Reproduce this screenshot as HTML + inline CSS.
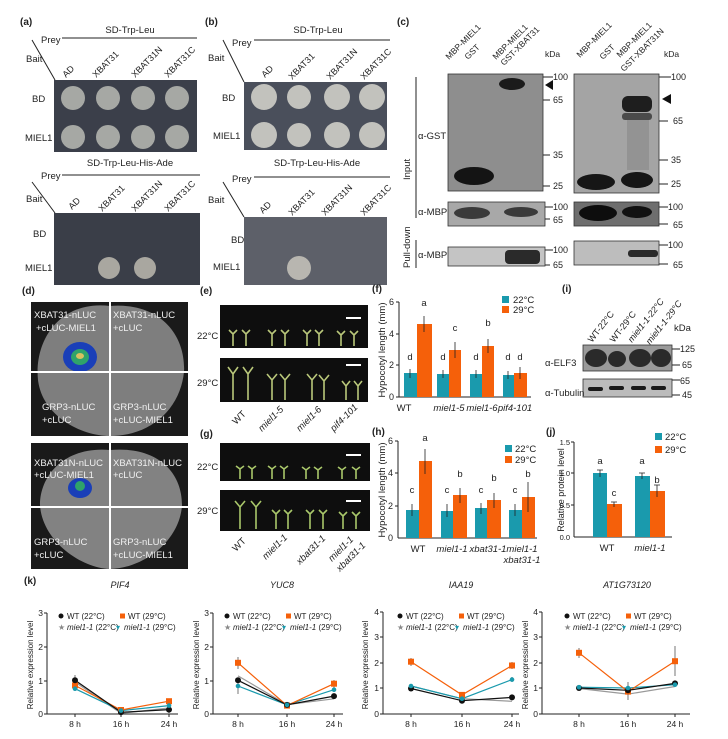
<!DOCTYPE html>
<html><head><meta charset="utf-8"><style>
html,body{margin:0;padding:0;background:#fff}
svg{display:block;font-family:"Liberation Sans",Arial,sans-serif}
</style></head><body>
<svg width="728" height="739" viewBox="0 0 728 739" xmlns="http://www.w3.org/2000/svg">
<rect width="728" height="739" fill="#fff"/>
<g font-size="9.5" fill="#222">
<!-- ===== Panel a ===== -->
<text x="20" y="25" font-weight="bold" font-size="10">(a)</text>
<text x="130" y="33" text-anchor="middle">SD-Trp-Leu</text>
<text x="41" y="43">Prey</text><line x1="62" y1="38" x2="197" y2="38" stroke="#222"/>
<text x="26" y="62">Bait</text><line x1="32" y1="40" x2="55" y2="80" stroke="#222"/>
<g font-size="9">
<text transform="translate(66,78) rotate(-45)">AD</text>
<text transform="translate(96,78) rotate(-45)">XBAT31</text>
<text transform="translate(135,78) rotate(-45)">XBAT31N</text>
<text transform="translate(168,78) rotate(-45)">XBAT31C</text>
</g>
<rect x="54" y="80" width="143" height="72" fill="#3b3f4a"/>
<g fill="#a6a8a4"><circle cx="73" cy="98" r="12"/><circle cx="108" cy="98" r="12"/><circle cx="143" cy="98" r="12"/><circle cx="177" cy="98" r="12"/>
<circle cx="73" cy="137" r="12"/><circle cx="108" cy="137" r="12"/><circle cx="143" cy="137" r="12"/><circle cx="177" cy="137" r="12"/></g>
<text x="32" y="102">BD</text><text x="25" y="141">MIEL1</text>
<text x="130" y="166" text-anchor="middle">SD-Trp-Leu-His-Ade</text>
<text x="41" y="179">Prey</text><line x1="62" y1="175" x2="200" y2="175" stroke="#222"/>
<text x="26" y="202">Bait</text><line x1="32" y1="182" x2="55" y2="213" stroke="#222"/>
<g font-size="9">
<text transform="translate(72,210) rotate(-45)">AD</text>
<text transform="translate(102,212) rotate(-45)">XBAT31</text>
<text transform="translate(135,212) rotate(-45)">XBAT31N</text>
<text transform="translate(168,212) rotate(-45)">XBAT31C</text>
</g>
<rect x="54" y="213" width="146" height="72" fill="#3a3e48"/>
<g fill="#a9a7a0"><circle cx="109" cy="268" r="11"/><circle cx="145" cy="268" r="11"/></g>
<text x="33" y="237">BD</text><text x="25" y="271">MIEL1</text>

<!-- ===== Panel b ===== -->
<text x="205" y="25" font-weight="bold" font-size="10">(b)</text>
<text x="318" y="33" text-anchor="middle">SD-Trp-Leu</text>
<text x="232" y="46">Prey</text><line x1="254" y1="40" x2="390" y2="40" stroke="#222"/>
<text x="208" y="61">Bait</text><line x1="223" y1="40" x2="244" y2="82" stroke="#222"/>
<g font-size="9">
<text transform="translate(265,78) rotate(-45)">AD</text>
<text transform="translate(292,80) rotate(-45)">XBAT31</text>
<text transform="translate(330,80) rotate(-45)">XBAT31N</text>
<text transform="translate(364,80) rotate(-45)">XBAT31C</text>
</g>
<rect x="244" y="82" width="143" height="68" fill="#4a4f5b"/>
<g fill="#c2c2bd"><circle cx="264" cy="97" r="13"/><circle cx="299" cy="97" r="12"/><circle cx="337" cy="97" r="13"/><circle cx="372" cy="97" r="13"/>
<circle cx="264" cy="135" r="13"/><circle cx="299" cy="135" r="12"/><circle cx="337" cy="135" r="13"/><circle cx="372" cy="135" r="13"/></g>
<text x="222" y="101">BD</text><text x="213" y="139">MIEL1</text>
<text x="317" y="166" text-anchor="middle">SD-Trp-Leu-His-Ade</text>
<text x="232" y="182">Prey</text><line x1="254" y1="177" x2="390" y2="177" stroke="#222"/>
<text x="208" y="203">Bait</text><line x1="223" y1="182" x2="244" y2="217" stroke="#222"/>
<g font-size="9">
<text transform="translate(263,214) rotate(-45)">AD</text>
<text transform="translate(292,216) rotate(-45)">XBAT31</text>
<text transform="translate(325,216) rotate(-45)">XBAT31N</text>
<text transform="translate(364,216) rotate(-45)">XBAT31C</text>
</g>
<rect x="244" y="217" width="143" height="68" fill="#5d6069"/>
<circle cx="299" cy="268" r="12" fill="#b8b6b0"/>
<text x="231" y="243">BD</text><text x="213" y="270">MIEL1</text>

<!-- ===== Panel c ===== -->
<text x="397" y="25" font-weight="bold" font-size="10">(c)</text>
<g font-size="8.5">
<text transform="translate(449,60) rotate(-45)">MBP-MIEL1</text>
<text transform="translate(468,60) rotate(-45)">GST</text>
<text transform="translate(496,60) rotate(-45)">MBP-MIEL1</text>
<text transform="translate(504,66) rotate(-45)">GST-XBAT31</text>
<text transform="translate(580,58) rotate(-45)">MBP-MIEL1</text>
<text transform="translate(603,60) rotate(-45)">GST</text>
<text transform="translate(620,58) rotate(-45)">MBP-MIEL1</text>
<text transform="translate(624,72) rotate(-45)">GST-XBAT31N</text>
<text x="545" y="57">kDa</text><text x="664" y="57">kDa</text>
</g>
<text transform="translate(410,180) rotate(-90)">Input</text>
<line x1="416" y1="77" x2="416" y2="218" stroke="#222"/>
<text transform="translate(410,268) rotate(-90)">Pull-down</text>
<line x1="416" y1="240" x2="416" y2="268" stroke="#222"/>
<text x="418" y="139">α-GST</text>
<text x="418" y="215">α-MBP</text>
<text x="418" y="258">α-MBP</text>
<rect x="448" y="74" width="95" height="117" fill="#8e8e8e" stroke="#333" stroke-width="0.8"/>
<ellipse cx="512" cy="84" rx="13" ry="6" fill="#1b1b1b"/>
<ellipse cx="474" cy="176" rx="20" ry="9" fill="#141414"/>
<rect x="574" y="74" width="85" height="119" fill="#a4a4a4" stroke="#333" stroke-width="0.8"/>
<rect x="622" y="96" width="30" height="16" rx="6" fill="#1e1e1e"/>
<rect x="622" y="113" width="30" height="7" rx="3" fill="#4a4a4a"/>
<rect x="627" y="120" width="22" height="50" fill="#8c8c8c" opacity="0.7"/>
<ellipse cx="596" cy="182" rx="19" ry="8" fill="#161616"/>
<ellipse cx="637" cy="180" rx="16" ry="8" fill="#161616"/>
<g stroke="#222" stroke-width="1"><line x1="543" y1="77" x2="553" y2="77"/><line x1="543" y1="100" x2="550" y2="100"/><line x1="543" y1="155" x2="550" y2="155"/><line x1="543" y1="186" x2="550" y2="186"/>
<line x1="659" y1="77" x2="671" y2="77"/><line x1="659" y1="121" x2="668" y2="121"/><line x1="659" y1="160" x2="668" y2="160"/><line x1="659" y1="184" x2="668" y2="184"/></g>
<g font-size="9"><text x="553" y="80">100</text><text x="553" y="103">65</text><text x="553" y="158">35</text><text x="553" y="189">25</text>
<text x="671" y="80">100</text><text x="673" y="124">65</text><text x="671" y="163">35</text><text x="671" y="187">25</text></g>
<polygon points="545,85 553,80 553,90" fill="#111"/>
<polygon points="662,99 671,94 671,104" fill="#111"/>
<rect x="448" y="202" width="97" height="24" fill="#a8a8a8" stroke="#333" stroke-width="0.8"/>
<ellipse cx="472" cy="213" rx="18" ry="6" fill="#3a3a3a"/><ellipse cx="521" cy="212" rx="17" ry="5" fill="#3a3a3a"/>
<rect x="574" y="202" width="85" height="24" fill="#6e6e6e" stroke="#333" stroke-width="0.8"/>
<ellipse cx="598" cy="213" rx="19" ry="8" fill="#0d0d0d"/><ellipse cx="637" cy="212" rx="15" ry="6" fill="#111"/>
<rect x="448" y="247" width="97" height="19" fill="#c4c4c4" stroke="#333" stroke-width="0.8"/>
<rect x="505" y="250" width="35" height="14" rx="4" fill="#2a2a2a"/>
<rect x="574" y="241" width="85" height="24" fill="#bdbdbd" stroke="#333" stroke-width="0.8"/>
<rect x="628" y="250" width="30" height="7" rx="3" fill="#2a2a2a"/>
<g stroke="#222"><line x1="545" y1="207" x2="553" y2="207"/><line x1="545" y1="219" x2="550" y2="219"/><line x1="659" y1="207" x2="668" y2="207"/><line x1="659" y1="224" x2="668" y2="224"/>
<line x1="545" y1="250" x2="553" y2="250"/><line x1="545" y1="265" x2="550" y2="265"/><line x1="659" y1="245" x2="668" y2="245"/><line x1="659" y1="264" x2="668" y2="264"/></g>
<g font-size="9"><text x="553" y="210">100</text><text x="553" y="223">65</text><text x="668" y="210">100</text><text x="673" y="228">65</text>
<text x="553" y="253">100</text><text x="553" y="268">65</text><text x="668" y="248">100</text><text x="673" y="268">65</text></g>

<!-- ===== Panel d ===== -->
<text x="22" y="294" font-weight="bold" font-size="10">(d)</text>
<rect x="31" y="302" width="157" height="134" fill="#1a1a1a"/>
<path d="M110,306 C60,300 34,340 38,380 C42,415 80,436 110,436 C150,436 180,410 184,372 C186,335 160,302 110,306Z" fill="#7e7e7e"/>
<ellipse cx="80" cy="357" rx="17" ry="15" fill="#1a3fb8"/><ellipse cx="80" cy="357" rx="9" ry="8" fill="#2fa36a"/><ellipse cx="80" cy="356" rx="4" ry="3" fill="#d8c060"/>
<rect x="31" y="443" width="157" height="126" fill="#1a1a1a"/>
<path d="M110,450 C65,446 40,475 40,505 C42,540 80,568 110,569 C145,568 180,540 182,505 C182,470 155,446 110,450Z" fill="#828282"/>
<ellipse cx="80" cy="488" rx="12" ry="10" fill="#1a3fb8"/><ellipse cx="80" cy="486" rx="5" ry="5" fill="#2fa36a"/>
<g stroke="#fff" stroke-width="2"><line x1="110" y1="302" x2="110" y2="436"/><line x1="31" y1="372" x2="188" y2="372"/>
<line x1="110" y1="443" x2="110" y2="569"/><line x1="31" y1="507" x2="188" y2="507"/></g>
<g fill="#f0f0f0" font-size="9.5">
<text x="34" y="318">XBAT31-nLUC</text><text x="36" y="331">+cLUC-MIEL1</text>
<text x="113" y="318">XBAT31-nLUC</text><text x="113" y="331">+cLUC</text>
<text x="42" y="410">GRP3-nLUC</text><text x="42" y="423">+cLUC</text>
<text x="113" y="410">GRP3-nLUC</text><text x="113" y="423">+cLUC-MIEL1</text>
<text x="34" y="466">XBAT31N-nLUC</text><text x="34" y="478">+cLUC-MIEL1</text>
<text x="113" y="466">XBAT31N-nLUC</text><text x="113" y="478">+cLUC</text>
<text x="34" y="545">GRP3-nLUC</text><text x="34" y="558">+cLUC</text>
<text x="113" y="545">GRP3-nLUC</text><text x="113" y="558">+cLUC-MIEL1</text>
</g>

<!-- ===== Panel e ===== -->
<text x="200" y="294" font-weight="bold" font-size="10">(e)</text>
<rect x="220" y="305" width="148" height="43" fill="#0e0e0e"/>
<rect x="220" y="358" width="148" height="44" fill="#0e0e0e"/>
<text x="197" y="339">22°C</text><text x="197" y="386">29°C</text>
<g stroke="#fff" stroke-width="2"><line x1="346" y1="318" x2="361" y2="318"/><line x1="346" y1="365" x2="361" y2="365"/></g>
<g stroke="#b9c77a" stroke-width="1.6" fill="none">
<path d="M233,346V334l-4,-4M233,334l4,-4 M246,346V334l-4,-4M246,334l4,-4"/>
<path d="M272,346V334l-4,-4M272,334l4,-4 M285,346V334l-4,-4M285,334l4,-4"/>
<path d="M307,346V334l-4,-4M307,334l4,-4 M319,346V334l-4,-4M319,334l4,-4"/>
<path d="M341,346V335l-4,-4M341,335l4,-4 M354,346V335l-4,-4M354,335l4,-4"/>
<path d="M233,400V374l-5,-7M233,374l5,-7 M248,400V374l-5,-7M248,374l5,-7"/>
<path d="M272,400V380l-5,-6M272,380l5,-6 M285,400V380l-5,-6M285,380l5,-6"/>
<path d="M312,400V380l-5,-6M312,380l5,-6 M324,400V381l-5,-6M324,381l5,-6"/>
<path d="M346,400V386l-4,-5M346,386l4,-5 M358,400V386l-4,-5M358,386l4,-5"/>
</g>
<g font-size="9.5" font-style="italic">
<text transform="translate(236,425) rotate(-45)" font-style="normal">WT</text>
<text transform="translate(262,432) rotate(-45)">miel1-5</text>
<text transform="translate(300,432) rotate(-45)">miel1-6</text>
<text transform="translate(334,432) rotate(-45)">pif4-101</text>
</g>

<!-- ===== Panel g ===== -->
<text x="200" y="437" font-weight="bold" font-size="10">(g)</text>
<rect x="220" y="443" width="150" height="38" fill="#0e0e0e"/>
<rect x="220" y="490" width="150" height="41" fill="#0e0e0e"/>
<text x="197" y="470">22°C</text><text x="197" y="514">29°C</text>
<g stroke="#fff" stroke-width="2"><line x1="346" y1="455" x2="361" y2="455"/><line x1="346" y1="501" x2="361" y2="501"/></g>
<g stroke="#a9c76a" stroke-width="1.6" fill="none">
<path d="M240,479V469l-4,-3M240,469l4,-3 M252,479V469l-4,-3M252,469l4,-3"/>
<path d="M272,479V469l-4,-3M272,469l4,-3 M284,479V469l-4,-3M284,469l4,-3"/>
<path d="M306,479V470l-4,-3M306,470l4,-3 M318,479V470l-4,-3M318,470l4,-3"/>
<path d="M342,479V470l-4,-3M342,470l4,-3 M356,479V470l-4,-3M356,470l4,-3"/>
<path d="M240,529V507l-5,-6M240,507l5,-6 M256,529V507l-5,-6M256,507l5,-6"/>
<path d="M276,529V514l-4,-4M276,514l4,-4 M288,529V514l-4,-4M288,514l4,-4"/>
<path d="M310,529V514l-4,-4M310,514l4,-4 M323,529V514l-4,-4M323,514l4,-4"/>
<path d="M343,529V516l-4,-4M343,516l4,-4 M356,529V516l-4,-4M356,516l4,-4"/>
</g>
<g font-size="9.5" font-style="italic">
<text transform="translate(236,552) rotate(-45)" font-style="normal">WT</text>
<text transform="translate(266,560) rotate(-45)">miel1-1</text>
<text transform="translate(300,565) rotate(-45)">xbat31-1</text>
<text transform="translate(332,562) rotate(-45)">miel1-1</text>
<text transform="translate(340,572) rotate(-45)">xbat31-1</text>
</g>

<!-- ===== Panel f ===== -->
<text x="372" y="292" font-weight="bold" font-size="10">(f)</text>
<text transform="translate(385,350) rotate(-90)" text-anchor="middle">Hypocotyl length (mm)</text>
<g stroke="#222"><line x1="399" y1="302" x2="399" y2="397"/><line x1="399" y1="397" x2="531" y2="397"/>
<line x1="396" y1="302" x2="399" y2="302"/><line x1="396" y1="334" x2="399" y2="334"/><line x1="396" y1="365" x2="399" y2="365"/><line x1="396" y1="397" x2="399" y2="397"/></g>
<g font-size="9" text-anchor="end"><text x="394" y="305">6</text><text x="394" y="337">4</text><text x="394" y="368">2</text><text x="394" y="400">0</text></g>
<g fill="#1a9aad"><rect x="404" y="373" width="13" height="24"/><rect x="437" y="374" width="12" height="23"/><rect x="470" y="374" width="12" height="23"/><rect x="503" y="375" width="11" height="22"/></g>
<g fill="#f5600a"><rect x="417" y="324" width="15" height="73"/><rect x="449" y="350" width="12" height="47"/><rect x="482" y="346" width="12" height="51"/><rect x="514" y="373" width="13" height="24"/></g>
<g stroke="#222" stroke-width="0.8"><path d="M410,369V378M424,316V332M443,370V378M455,342V358M476,370V378M488,339V353M508,371V379M520,367V379"/></g>
<g font-size="9.5" text-anchor="middle"><text x="410" y="360">d</text><text x="424" y="306">a</text><text x="443" y="360">d</text><text x="455" y="331">c</text><text x="476" y="360">d</text><text x="488" y="326">b</text><text x="508" y="360">d</text><text x="520" y="360">d</text></g>
<g font-size="9.5" text-anchor="middle"><text x="404" y="411">WT</text><g font-style="italic"><text x="449" y="411">miel1-5</text><text x="482" y="411">miel1-6</text><text x="515" y="411">pif4-101</text></g></g>
<rect x="502" y="296" width="7" height="7" fill="#1a9aad"/><text x="513" y="303">22°C</text>
<rect x="502" y="306" width="7" height="7" fill="#f5600a"/><text x="513" y="313">29°C</text>

<!-- ===== Panel h ===== -->
<text x="372" y="435" font-weight="bold" font-size="10">(h)</text>
<text transform="translate(385,490) rotate(-90)" text-anchor="middle">Hypocotyl length (mm)</text>
<g stroke="#222"><line x1="398" y1="441" x2="398" y2="538"/><line x1="398" y1="538" x2="537" y2="538"/>
<line x1="395" y1="441" x2="398" y2="441"/><line x1="395" y1="473" x2="398" y2="473"/><line x1="395" y1="506" x2="398" y2="506"/></g>
<g font-size="9" text-anchor="end"><text x="393" y="444">6</text><text x="393" y="476">4</text><text x="393" y="509">2</text><text x="393" y="541">0</text></g>
<g fill="#1a9aad"><rect x="406" y="510" width="13" height="28"/><rect x="441" y="511" width="12" height="27"/><rect x="475" y="508" width="12" height="30"/><rect x="509" y="510" width="13" height="28"/></g>
<g fill="#f5600a"><rect x="419" y="461" width="13" height="77"/><rect x="453" y="495" width="14" height="43"/><rect x="487" y="500" width="14" height="38"/><rect x="522" y="497" width="13" height="41"/></g>
<g stroke="#222" stroke-width="0.8"><path d="M412,504V516M425,449V474M447,504V517M460,488V503M481,503V514M494,493V508M515,504V516M528,482V512"/></g>
<g font-size="9.5" text-anchor="middle"><text x="412" y="493">c</text><text x="425" y="441">a</text><text x="447" y="493">c</text><text x="460" y="477">b</text><text x="481" y="493">c</text><text x="494" y="481">b</text><text x="515" y="493">c</text><text x="528" y="477">b</text></g>
<g font-size="9.5" text-anchor="middle"><text x="418" y="552">WT</text><g font-style="italic"><text x="452" y="552">miel1-1</text><text x="488" y="552">xbat31-1</text><text x="522" y="552">miel1-1</text><text x="522" y="563">xbat31-1</text></g></g>
<rect x="505" y="445" width="7" height="7" fill="#1a9aad"/><text x="515" y="452">22°C</text>
<rect x="505" y="456" width="7" height="7" fill="#f5600a"/><text x="515" y="463">29°C</text>

<!-- ===== Panel i ===== -->
<text x="562" y="292" font-weight="bold" font-size="10">(i)</text>
<g font-size="9">
<text transform="translate(592,343) rotate(-52)">WT-22°C</text>
<text transform="translate(614,343) rotate(-52)">WT-29°C</text>
<text transform="translate(632,343) rotate(-52)" font-style="italic">miel1-1-22°C</text>
<text transform="translate(650,345) rotate(-52)" font-style="italic">miel1-1-29°C</text>
</g>
<text x="674" y="331">kDa</text>
<rect x="583" y="345" width="89" height="26" fill="#9a9a9a" stroke="#333" stroke-width="0.8"/>
<g fill="#2a2a2a"><ellipse cx="596" cy="358" rx="11" ry="9"/><ellipse cx="617" cy="359" rx="9" ry="8"/><ellipse cx="640" cy="358" rx="11" ry="9"/><ellipse cx="661" cy="358" rx="10" ry="9"/></g>
<rect x="583" y="379" width="89" height="18" fill="#bbbbbb" stroke="#333" stroke-width="0.8"/>
<g fill="#1a1a1a"><rect x="588" y="387" width="15" height="4" rx="2"/><rect x="609" y="386" width="15" height="4" rx="2"/><rect x="631" y="386" width="15" height="4" rx="2"/><rect x="651" y="386" width="15" height="4" rx="2"/></g>
<text x="545" y="366">α-ELF3</text><text x="545" y="396">α-Tubulin</text>
<g stroke="#222"><line x1="672" y1="349" x2="680" y2="349"/><line x1="672" y1="365" x2="680" y2="365"/><line x1="672" y1="380" x2="680" y2="380"/><line x1="672" y1="395" x2="680" y2="395"/></g>
<g font-size="9"><text x="680" y="352">125</text><text x="682" y="368">65</text><text x="680" y="384">65</text><text x="682" y="398">45</text></g>

<!-- ===== Panel j ===== -->
<text x="546" y="435" font-weight="bold" font-size="10">(j)</text>
<text transform="translate(564,490) rotate(-90)" text-anchor="middle" font-size="9">Relative protein level</text>
<g stroke="#222"><line x1="574" y1="442" x2="574" y2="537"/><line x1="574" y1="537" x2="672" y2="537"/>
<line x1="571" y1="442" x2="574" y2="442"/><line x1="571" y1="473" x2="574" y2="473"/><line x1="571" y1="505" x2="574" y2="505"/></g>
<g font-size="7.5" text-anchor="end"><text x="570" y="445">1.5</text><text x="570" y="476">1.0</text><text x="570" y="508">0.5</text><text x="570" y="540">0.0</text></g>
<rect x="593" y="473" width="14" height="64" fill="#1a9aad"/><rect x="607" y="504" width="15" height="33" fill="#f5600a"/>
<rect x="635" y="476" width="15" height="61" fill="#1a9aad"/><rect x="650" y="491" width="15" height="46" fill="#f5600a"/>
<g stroke="#222" stroke-width="0.8"><path d="M600,470V477M597,470H603M614,502V507M611,502H617M642,473V479M639,473H645M657,485V497M654,485H660"/></g>
<g font-size="9.5" text-anchor="middle"><text x="600" y="464">a</text><text x="614" y="496">c</text><text x="642" y="464">a</text><text x="657" y="483">b</text></g>
<text x="607" y="551" text-anchor="middle">WT</text><text x="650" y="551" text-anchor="middle" font-style="italic">miel1-1</text>
<rect x="655" y="433" width="7" height="7" fill="#1a9aad"/><text x="665" y="440">22°C</text>
<rect x="655" y="446" width="7" height="7" fill="#f5600a"/><text x="665" y="453">29°C</text>

<!-- ===== Panel k ===== -->
<text x="24" y="584" font-weight="bold" font-size="10">(k)</text>
<g font-size="9" font-style="italic" text-anchor="middle"><text x="120" y="588">PIF4</text><text x="282" y="588">YUC8</text><text x="461" y="588">IAA19</text><text x="627" y="588">AT1G73120</text></g>
<g font-size="8" text-anchor="middle">
<text transform="translate(33,665) rotate(-90)">Relative expression level</text>
<text transform="translate(199,665) rotate(-90)">Relative expression level</text>
<text transform="translate(368,665) rotate(-90)">Relative expression level</text>
<text transform="translate(528,665) rotate(-90)">Relative expression level</text>
</g>
<g stroke="#222" fill="none">
<path d="M47,613V714H178M44,613H47M44,647H47M44,681H47M44,714H47M75,714V717M121,714V717M169,714V717"/>
<path d="M213,613V714H343M210,613H213M210,647H213M210,681H213M210,714H213M238,714V717M287,714V717M334,714V717"/>
<path d="M383,612V714H519M380,612H383M380,637H383M380,663H383M380,688H383M380,714H383M411,714V717M462,714V717M512,714V717"/>
<path d="M542,612V714H690M539,612H542M539,637H542M539,663H542M539,688H542M539,714H542M579,714V717M628,714V717M675,714V717"/>
</g>
<g font-size="8.5" text-anchor="end">
<text x="43" y="616">3</text><text x="43" y="650">2</text><text x="43" y="684">1</text><text x="43" y="717">0</text>
<text x="209" y="616">3</text><text x="209" y="650">2</text><text x="209" y="684">1</text><text x="209" y="717">0</text>
<text x="379" y="615">4</text><text x="379" y="640">3</text><text x="379" y="666">2</text><text x="379" y="691">1</text><text x="379" y="717">0</text>
<text x="538" y="615">4</text><text x="538" y="640">3</text><text x="538" y="666">2</text><text x="538" y="691">1</text><text x="538" y="717">0</text>
</g>
<g font-size="8.5" text-anchor="middle">
<text x="75" y="727">8 h</text><text x="121" y="727">16 h</text><text x="169" y="727">24 h</text>
<text x="238" y="727">8 h</text><text x="287" y="727">16 h</text><text x="334" y="727">24 h</text>
<text x="411" y="727">8 h</text><text x="462" y="727">16 h</text><text x="512" y="727">24 h</text>
<text x="579" y="727">8 h</text><text x="628" y="727">16 h</text><text x="675" y="727">24 h</text>
</g>
<g font-size="8">
<g>
<circle cx="61" cy="616" r="2.5" fill="#111"/><text x="67" y="619">WT (22°C)</text>
<rect x="120" y="613.5" width="5" height="5" fill="#f5600a"/><text x="128" y="619">WT (29°C)</text>
<text x="58" y="630" fill="#888">★</text><text x="67" y="630"><tspan font-style="italic">miel1-1</tspan> (22°C)</text>
<text x="116" y="630" fill="#1a9aad">▾</text><text x="124" y="630"><tspan font-style="italic">miel1-1</tspan> (29°C)</text>
</g>
<g transform="translate(166,0)">
<circle cx="61" cy="616" r="2.5" fill="#111"/><text x="67" y="619">WT (22°C)</text>
<rect x="120" y="613.5" width="5" height="5" fill="#f5600a"/><text x="128" y="619">WT (29°C)</text>
<text x="58" y="630" fill="#888">★</text><text x="67" y="630"><tspan font-style="italic">miel1-1</tspan> (22°C)</text>
<text x="116" y="630" fill="#1a9aad">▾</text><text x="124" y="630"><tspan font-style="italic">miel1-1</tspan> (29°C)</text>
</g>
<g transform="translate(339,0)">
<circle cx="61" cy="616" r="2.5" fill="#111"/><text x="67" y="619">WT (22°C)</text>
<rect x="120" y="613.5" width="5" height="5" fill="#f5600a"/><text x="128" y="619">WT (29°C)</text>
<text x="58" y="630" fill="#888">★</text><text x="67" y="630"><tspan font-style="italic">miel1-1</tspan> (22°C)</text>
<text x="116" y="630" fill="#1a9aad">▾</text><text x="124" y="630"><tspan font-style="italic">miel1-1</tspan> (29°C)</text>
</g>
<g transform="translate(506,0)">
<circle cx="61" cy="616" r="2.5" fill="#111"/><text x="67" y="619">WT (22°C)</text>
<rect x="120" y="613.5" width="5" height="5" fill="#f5600a"/><text x="128" y="619">WT (29°C)</text>
<text x="58" y="630" fill="#888">★</text><text x="67" y="630"><tspan font-style="italic">miel1-1</tspan> (22°C)</text>
<text x="116" y="630" fill="#1a9aad">▾</text><text x="124" y="630"><tspan font-style="italic">miel1-1</tspan> (29°C)</text>
</g>
</g>
<g fill="none" stroke-width="1.2">
<polyline points="75,682 121,713.3 169,708" stroke="#999"/>
<polyline points="75,688.7 121,710.6 169,705.6" stroke="#1a9aad"/>
<polyline points="75,685.4 121,710 169,701.2" stroke="#f5600a"/>
<polyline points="75,680.3 121,712.3 169,709.6" stroke="#111"/>
<polyline points="238,675.9 287,704.6 334,698.8" stroke="#999"/>
<polyline points="238,686 287,704.9 334,689.7" stroke="#1a9aad"/>
<polyline points="238,662.8 287,705.6 334,683.7" stroke="#f5600a"/>
<polyline points="238,680.3 287,704.9 334,696.1" stroke="#111"/>
<polyline points="411,686 462,698.7 512,701.3" stroke="#999"/>
<polyline points="411,686 462,698.7 512,679.6" stroke="#1a9aad"/>
<polyline points="411,661.7 462,694.9 512,665.5" stroke="#f5600a"/>
<polyline points="411,688.5 462,700.7 512,697.4" stroke="#111"/>
<polyline points="579,688.5 628,694.1 675,686.5" stroke="#999"/>
<polyline points="579,687.2 628,688 675,684.7" stroke="#1a9aad"/>
<polyline points="579,652.8 628,691.6 675,661.2" stroke="#f5600a"/>
<polyline points="579,688 628,690.3 675,683.4" stroke="#111"/>
</g>
<g stroke="#555" stroke-width="0.8">
<path d="M75,675V690M169,705V713M238,657V669M238,678V694M334,680V688M411,658V666M512,662V669M512,677V682M579,648V658M675,646V676M628,682V700"/>
</g>
<g fill="#f5600a">
<rect x="72" y="682.4" width="6" height="6"/><rect x="118" y="707" width="6" height="6"/><rect x="166" y="698.2" width="6" height="6"/>
<rect x="235" y="659.8" width="6" height="6"/><rect x="284" y="702.6" width="6" height="6"/><rect x="331" y="680.7" width="6" height="6"/>
<rect x="408" y="658.7" width="6" height="6"/><rect x="459" y="691.9" width="6" height="6"/><rect x="509" y="662.5" width="6" height="6"/>
<rect x="576" y="649.8" width="6" height="6"/><rect x="625" y="688.6" width="6" height="6"/><rect x="672" y="658.2" width="6" height="6"/>
</g>
<g fill="#111">
<circle cx="75" cy="680.3" r="3"/><circle cx="121" cy="712.3" r="3"/><circle cx="169" cy="709.6" r="3"/>
<circle cx="238" cy="680.3" r="3"/><circle cx="287" cy="704.9" r="3"/><circle cx="334" cy="696.1" r="3"/>
<circle cx="411" cy="688.5" r="3"/><circle cx="462" cy="700.7" r="3"/><circle cx="512" cy="697.4" r="3"/>
<circle cx="579" cy="688" r="3"/><circle cx="628" cy="690.3" r="3"/><circle cx="675" cy="683.4" r="3"/>
</g>
<g fill="#1a9aad">
<circle cx="75" cy="688.7" r="2.3"/><circle cx="121" cy="710.6" r="2.3"/><circle cx="169" cy="705.6" r="2.3"/>
<circle cx="238" cy="686" r="2.3"/><circle cx="287" cy="704.9" r="2.3"/><circle cx="334" cy="689.7" r="2.3"/>
<circle cx="411" cy="686" r="2.3"/><circle cx="462" cy="698.7" r="2.3"/><circle cx="512" cy="679.6" r="2.3"/>
<circle cx="579" cy="687.2" r="2.3"/><circle cx="628" cy="688" r="2.3"/><circle cx="675" cy="684.7" r="2.3"/>
</g>
</g>
</svg>
</body></html>
